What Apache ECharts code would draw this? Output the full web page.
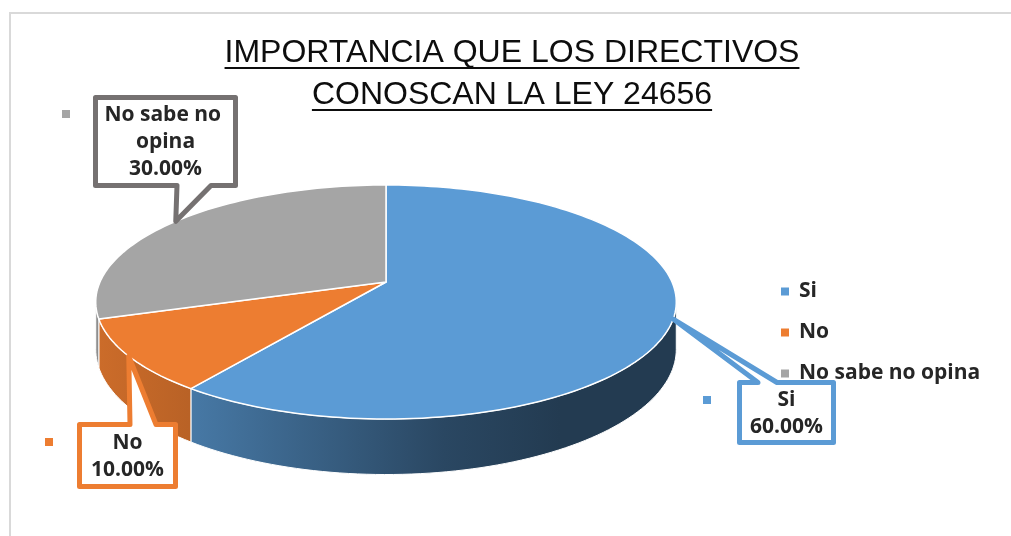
<!DOCTYPE html>
<html>
<head>
<meta charset="utf-8">
<title>Importancia Ley 24656</title>
<script src="https://cdn.jsdelivr.net/npm/echarts@6/dist/echarts.min.js"></script>
<style>
  html, body { margin: 0; padding: 0; background: #fff; }
  #chart { width: 1011px; height: 536px; }
</style>
</head>
<body>
<div id="chart"></div>
<script>
// datos
const categories = ['Si', 'No', 'No sabe no opina'];
const values = [60, 10, 30];
const titleLines = ['IMPORTANCIA QUE LOS DIRECTIVOS', 'CONOSCAN LA LEY 24656'];

// estilos
const colors = ['#5b9bd5', '#ed7d31', '#a5a5a5'];
const borderColors = ['#5b9bd5', '#ed7d31', '#757171'];
const LABEL_FONT = '"Open Sans", "Liberation Sans", sans-serif';
const LABEL_SIZE = 21;

// geometria del pastel 3D (perspectiva simple)
const CX = 386, CY = 282, RX = 286, RY = 113.6, K = 0.171, DEPTH = 46;
const SIL = Math.acos(-K) * 180 / Math.PI; // borde visible de la pared

// cajas de etiqueta (posicion de la caja, el puntero sale del pastel)
const labelLayout = [
  { box: [739.5, 382.5, 833.5, 442.5], side: 'top', base: [758, 777], key: [703, 396] },
  { box: [79.5, 424.5, 175.5, 486.5], side: 'top', base: [130, 156], key: [45, 438] },
  { box: [95.5, 97.5, 235.5, 185.5], side: 'bottom', base: [177, 211], key: [62, 110] }
];

const total = values.reduce((a, b) => a + b, 0);

function proj(deg, drop, r) {
  if (r == null) r = 1;
  const t = deg * Math.PI / 180;
  const u = r * Math.sin(t), v = -r * Math.cos(t);
  const den = 1 - K * v;
  return [CX + RX * u / den, CY + (RY * v + drop) / den];
}

function shade(hex, f) {
  const n = parseInt(hex.slice(1), 16);
  const r = Math.round(((n >> 16) & 255) * f);
  const g = Math.round(((n >> 8) & 255) * f);
  const b = Math.round((n & 255) * f);
  return 'rgb(' + r + ',' + g + ',' + b + ')';
}

function arcPts(a0, a1, drop) {
  const pts = [];
  const steps = Math.max(2, Math.ceil((a1 - a0) / 1.5));
  for (let i = 0; i <= steps; i++) {
    pts.push(proj(a0 + (a1 - a0) * i / steps, drop));
  }
  return pts;
}

function calloutPts(lay, tip) {
  const [x0, y0, x1, y1] = lay.box;
  const [b0, b1] = lay.base;
  if (lay.side === 'top') {
    return [[x0, y0], [b0, y0], tip, [b1, y0], [x1, y0], [x1, y1], [x0, y1]];
  }
  return [[x0, y0], [x1, y0], [x1, y1], [b1, y1], tip, [b0, y1], [x0, y1]];
}

function renderSlice(params, api) {
  const i = params.seriesIndex;
  const val = api.value(0);
  let before = 0;
  for (let j = 0; j < i; j++) before += values[j];
  const a0 = before / total * 360;
  const a1 = a0 + val / total * 360;
  const color = colors[i];
  const children = [];

  // pared lateral
  const w0 = Math.max(a0, SIL), w1 = Math.min(a1, 360 - SIL);
  if (w0 < w1) {
    const top = arcPts(w0, w1, 0);
    const bot = arcPts(w0, w1, DEPTH).reverse();
    children.push({
      type: 'polygon',
      z2: 1,
      shape: { points: top.concat(bot) },
      style: {
        fill: {
          type: 'linear', x: CX - RX - 4, y: 0, x2: CX + RX + 4, y2: 0, global: true,
          colorStops: [
            { offset: 0, color: shade(color, 0.86) },
            { offset: 0.16, color: shade(color, 0.78) },
            { offset: 0.6, color: shade(color, 0.46) },
            { offset: 0.8, color: shade(color, 0.38) },
            { offset: 1, color: shade(color, 0.38) }
          ]
        },
        stroke: '#fff',
        lineWidth: 1
      }
    });
  }

  // cara superior
  children.push({
    type: 'polygon',
    z2: 5,
    shape: { points: [[CX, CY]].concat(arcPts(a0, a1, 0)) },
    style: { fill: color, stroke: '#fff', lineWidth: 1.5, lineJoin: 'round' }
  });

  // etiqueta con puntero
  const lay = labelLayout[i];
  const tip = proj((a0 + a1) / 2, 0);
  const [x0, y0, x1, y1] = lay.box;
  children.push({
    type: 'polygon',
    z2: 10,
    shape: { points: calloutPts(lay, tip) },
    style: { fill: '#fff', stroke: borderColors[i], lineWidth: 5, lineJoin: 'round' }
  });
  children.push({
    type: 'text',
    z2: 11,
    x: (x0 + x1) / 2,
    y: (y0 + y1) / 2 + 1,
    style: {
      text: categories[i] + '\n' + (val / total * 100).toFixed(2) + '%',
      width: x1 - x0 - 6,
      overflow: 'break',
      align: 'center',
      verticalAlign: 'middle',
      font: 'bold ' + LABEL_SIZE + 'px ' + LABEL_FONT,
      lineHeight: 27,
      fill: '#262626'
    }
  });
  children.push({
    type: 'rect',
    z2: 10,
    shape: { x: lay.key[0], y: lay.key[1], width: 8, height: 8 },
    style: { fill: color }
  });

  return { type: 'group', children: children };
}

// medir el ancho del titulo para el subrayado
const TITLE_FONT = '32px "Liberation Sans", Arial, sans-serif';
const ctx = document.createElement('canvas').getContext('2d');
ctx.font = TITLE_FONT;

const titleGraphics = [];
titleLines.forEach((line, k) => {
  const cy = 53 + k * 42;
  const w = ctx.measureText(line).width;
  titleGraphics.push({
    type: 'text',
    x: 512, y: cy,
    style: { text: line, font: TITLE_FONT, fill: '#0d0d0d', align: 'center', verticalAlign: 'middle' }
  });
  titleGraphics.push({
    type: 'rect',
    shape: { x: 512 - w / 2, y: cy + 14, width: w, height: 2 },
    style: { fill: '#0d0d0d' }
  });
});

const chart = echarts.init(document.getElementById('chart'));

const option = {
  backgroundColor: '#fff',
  animation: false,
  color: colors,
  graphic: [
    {
      type: 'rect',
      shape: { x: 10, y: 13, width: 1100, height: 600 },
      style: { fill: 'none', stroke: '#d9d9d9', lineWidth: 2 }
    }
  ].concat(titleGraphics),
  legend: {
    orient: 'vertical',
    left: 781,
    top: 281,
    padding: 0,
    icon: 'rect',
    itemWidth: 8,
    itemHeight: 8,
    itemGap: 20,
    selectedMode: false,
    data: categories,
    textStyle: {
      fontFamily: LABEL_FONT,
      fontWeight: 'bold',
      fontSize: LABEL_SIZE,
      lineHeight: 20,
      color: '#262626',
      padding: [0, 0, 0, 5]
    }
  },
  series: categories.map((name, i) => ({
    type: 'custom',
    name: name,
    coordinateSystem: 'none',
    itemStyle: { color: colors[i] },
    data: [[values[i]]],
    renderItem: renderSlice
  }))
};

chart.setOption(option);
</script>
</body>
</html>
